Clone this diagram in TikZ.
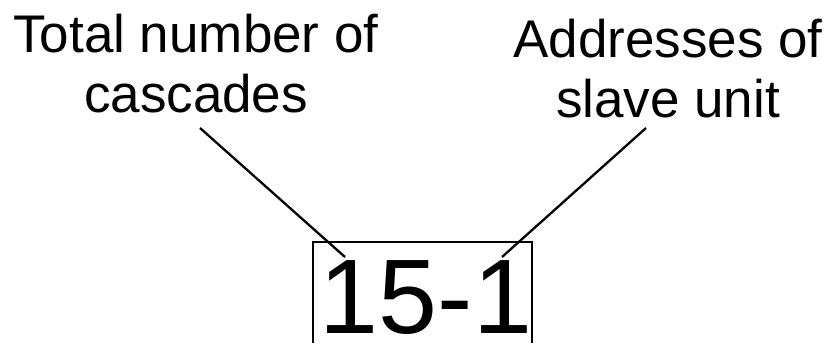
\documentclass[tikz,border=0pt]{standalone}
\usepackage{fontspec}
\setmainfont{Liberation Sans}
\begin{document}
\begin{tikzpicture}[x=1pt,y=-1pt,
  label/.style={font=\fontsize{53}{60}\selectfont, inner sep=0pt, align=center},
  leader/.style={line width=2.3pt},
  frame/.style={line width=2.2pt}]
\useasboundingbox (0,0) rectangle (830,343);
\node[label, anchor=base] (ltitle) at (196,112) {Total number of\\cascades};
\node[label, anchor=base] (rtitle) at (668,117) {Addresses of\\slave unit};
\node[font=\fontsize{106}{110}\selectfont, inner sep=0pt, anchor=base] (code) at (426,333) {15-1};
\draw[frame] (313,343) -- (313,242) -- (532,242) -- (532,343);
\coordinate (lstart) at (200,128);
\coordinate (lend) at (345,257);
\coordinate (rstart) at (646,128);
\coordinate (rend) at (502,257);
\draw[leader] (lstart) -- (lend);
\draw[leader] (rstart) -- (rend);
\end{tikzpicture}
\end{document}
